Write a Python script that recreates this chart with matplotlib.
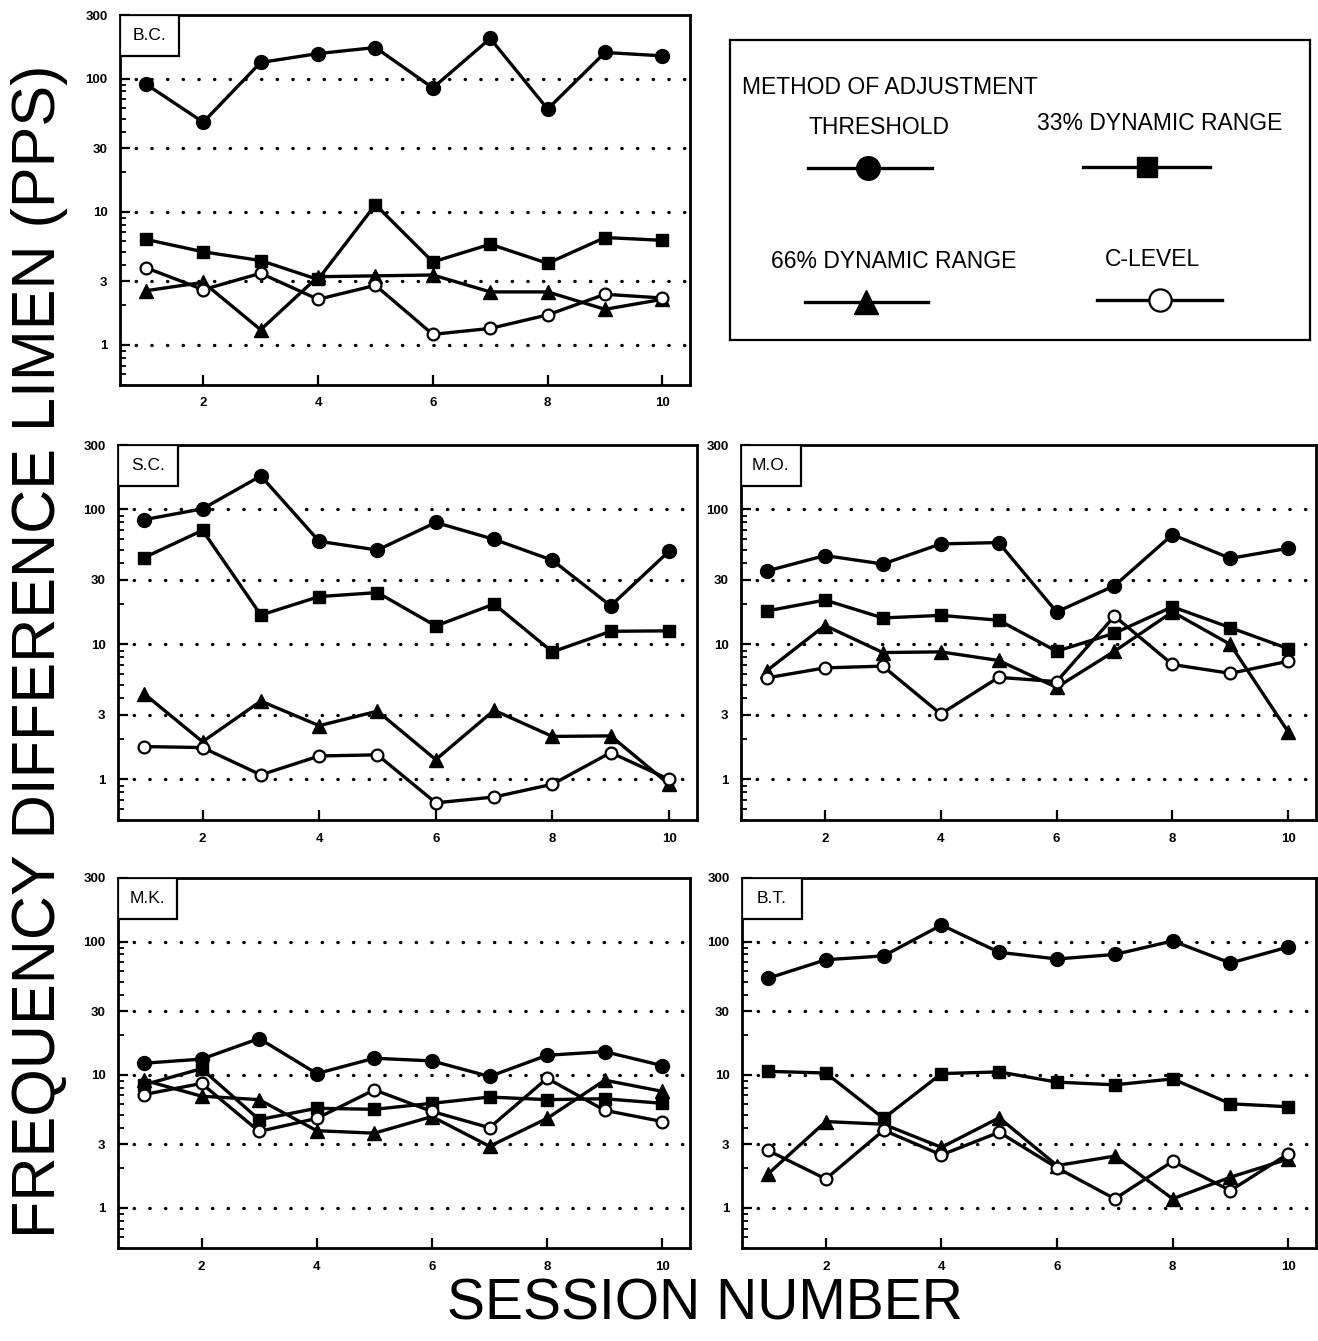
import matplotlib
matplotlib.use("Agg")
import matplotlib.pyplot as plt
from matplotlib.patches import Rectangle
from matplotlib.ticker import FixedLocator, LogLocator, NullFormatter

plt.rcParams['font.family'] = ['Liberation Sans', 'DejaVu Sans']

# Session numbers
sessions = [1, 2, 3, 4, 5, 6, 7, 8, 9, 10]

# Frequency difference limens (pps)
bc_threshold = [91, 47, 132, 154, 171, 85, 200, 59, 157, 148]
bc_dr33 = [6.2, 5.0, 4.3, 3.1, 11.3, 4.2, 5.7, 4.1, 6.4, 6.1]
bc_dr66 = [2.55, 2.95, 1.3, 3.25, 3.3, 3.35, 2.5, 2.5, 1.85, 2.2]
bc_clevel = [3.8, 2.6, 3.45, 2.2, 2.8, 1.2, 1.33, 1.68, 2.4, 2.25]

sc_threshold = [84, 101, 177, 58, 50, 80, 60, 42, 19.3, 49]
sc_dr33 = [44, 70, 16.5, 22.6, 24.2, 13.7, 19.9, 8.8, 12.5, 12.6]
sc_dr66 = [4.3, 1.9, 3.8, 2.5, 3.2, 1.4, 3.25, 2.08, 2.1, 0.92]
sc_clevel = [1.75, 1.72, 1.08, 1.49, 1.52, 0.67, 0.74, 0.92, 1.58, 1.0]

mo_threshold = [35, 45.5, 39.4, 55.5, 56.8, 17.4, 27.2, 65, 43.4, 51.5]
mo_dr33 = [17.7, 21.3, 15.7, 16.4, 15.1, 8.9, 12.1, 19.0, 13.3, 9.3]
mo_dr66 = [6.4, 13.8, 8.7, 8.8, 7.6, 4.8, 8.9, 17.4, 10.0, 2.25]
mo_clevel = [5.65, 6.7, 6.9, 3.05, 5.7, 5.3, 16.2, 7.1, 6.1, 7.5]

mk_threshold = [12.2, 13.1, 18.7, 10.2, 13.3, 12.7, 9.7, 14.0, 14.9, 11.7]
mk_dr33 = [8.4, 11.1, 4.6, 5.6, 5.5, 6.1, 6.8, 6.5, 6.6, 6.1]
mk_dr66 = [9.1, 6.9, 6.5, 3.8, 3.64, 4.85, 2.9, 4.7, 9.1, 7.5]
mk_clevel = [7.1, 8.6, 3.75, 4.7, 7.7, 5.3, 4.0, 9.4, 5.4, 4.45]

bt_threshold = [53, 73, 78, 133, 83, 74, 80, 101, 69, 91]
bt_dr33 = [10.6, 10.3, 4.7, 10.2, 10.5, 8.8, 8.4, 9.3, 6.05, 5.75]
bt_dr66 = [1.8, 4.45, 4.25, 2.85, 4.75, 2.08, 2.45, 1.17, 1.7, 2.33]
bt_clevel = [2.7, 1.65, 3.83, 2.5, 3.7, 2.0, 1.17, 2.24, 1.35, 2.55]

subjects = ["B.C.", "S.C.", "M.O.", "M.K.", "B.T."]
panel_data = [
    (bc_threshold, bc_dr33, bc_dr66, bc_clevel),
    (sc_threshold, sc_dr33, sc_dr66, sc_clevel),
    (mo_threshold, mo_dr33, mo_dr66, mo_clevel),
    (mk_threshold, mk_dr33, mk_dr66, mk_clevel),
    (bt_threshold, bt_dr33, bt_dr66, bt_clevel),
]
method_names = ["THRESHOLD", "33% DYNAMIC RANGE", "66% DYNAMIC RANGE", "C-LEVEL"]
y_ticks = [1, 3, 10, 30, 100, 300]
x_ticks = [2, 4, 6, 8, 10]

W, H = 1318, 1341
fig = plt.figure(figsize=(W / 100, H / 100), dpi=100)


def px_rect(x0, y0, x1, y1):
    return [x0 / W, 1 - y1 / H, (x1 - x0) / W, (y1 - y0) / H]


panel_boxes = [
    px_rect(120, 15, 690, 385),
    px_rect(118, 445, 697, 820),
    px_rect(741, 445, 1316, 820),
    px_rect(118, 878, 690, 1248),
    px_rect(742, 878, 1316, 1248),
]

# marker styles for the four methods
styles = [
    dict(marker='o', ms=10, mfc='black'),
    dict(marker='s', ms=8.5, mfc='black'),
    dict(marker='^', ms=10, mfc='black'),
    dict(marker='o', ms=8.5, mfc='white', mew=1.6),
]

for name, box, series in zip(subjects, panel_boxes, panel_data):
    ax = fig.add_axes(box)
    ax.set_yscale('log')
    ax.set_ylim(0.5, 300)
    ax.set_xlim(0.55, 10.48)
    for yv in [1, 3, 10, 30, 100]:
        ax.axhline(yv, color='black', lw=2.4, linestyle=(0, (0.1, 4.6)),
                   dash_capstyle='round', zorder=1)
    for vals, st in zip(series, styles):
        ax.plot(sessions, vals, color='black', lw=2.4, mec='black', zorder=3, **st)
    ax.yaxis.set_major_locator(FixedLocator(y_ticks))
    ax.set_yticklabels([str(t) for t in y_ticks])
    ax.yaxis.set_minor_locator(LogLocator(base=10, subs=range(2, 10)))
    ax.yaxis.set_minor_formatter(NullFormatter())
    ax.set_xticks(x_ticks)
    ax.tick_params(axis='both', which='major', direction='in', length=7, width=1.6,
                   labelsize=9.5, pad=9)
    ax.tick_params(axis='y', which='minor', direction='in', length=4, width=1.3)
    ax.tick_params(axis='x', which='minor', bottom=False)
    for lab in ax.get_xticklabels() + ax.get_yticklabels():
        lab.set_fontweight('bold')
    for sp in ax.spines.values():
        sp.set_linewidth(2)
    ax.add_patch(Rectangle((0, 1 - 0.11), 0.104, 0.11, transform=ax.transAxes,
                           facecolor='white', edgecolor='black', lw=1.6, zorder=5))
    ax.text(0.052, 1 - 0.055, name, transform=ax.transAxes, ha='center', va='center',
            fontsize=12.5, zorder=6)

# legend panel, drawn in pixel-like coordinates
lg = fig.add_axes(px_rect(730, 40, 1310, 340))
lg.set_xlim(730, 1310)
lg.set_ylim(340, 40)
lg.set_xticks([])
lg.set_yticks([])
for sp in lg.spines.values():
    sp.set_linewidth(1.6)
lg.text(742, 87, "METHOD OF ADJUSTMENT", ha='left', va='center', fontsize=16.5)
legend_layout = [
    (879, 127, 808, 932, 868, 168),
    (1160, 123, 1083, 1210, 1147, 167),
    (894, 262, 805, 928, 866, 302),
    (1153, 260, 1097, 1222, 1160, 300),
]
legend_ms = [17, 15, 17, 16]
for label, (tx, ty, x0, x1, mx, ly), st, ms in zip(method_names, legend_layout, styles, legend_ms):
    lg.text(tx, ty, label, ha='center', va='center', fontsize=16.5)
    lg.plot([x0, x1], [ly, ly], color='black', lw=2.4)
    st2 = dict(st)
    st2['ms'] = ms
    lg.plot([mx], [ly], color='black', mec='black', linestyle='none', **st2)

fig.text(0.030, 0.514, "FREQUENCY DIFFERENCE LIMEN (PPS)", rotation=90,
         ha='center', va='center', fontsize=44)
fig.text(0.535, 0.027, "SESSION NUMBER", ha='center', va='center', fontsize=41)

fig.savefig("out.png", dpi=100)
